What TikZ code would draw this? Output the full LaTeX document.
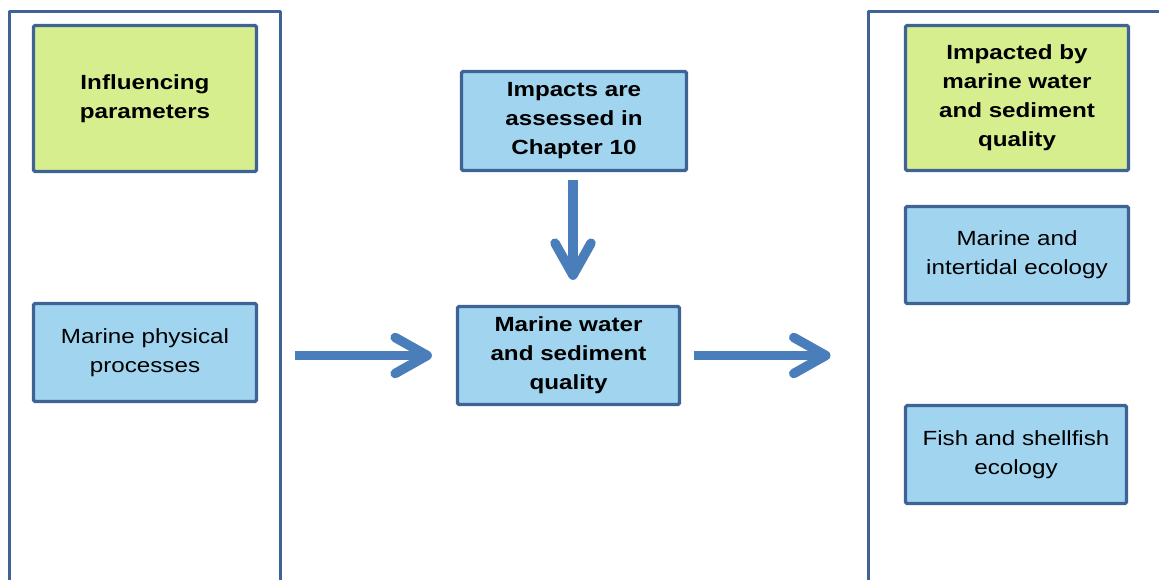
\documentclass[tikz,border=0pt]{standalone}
\usepackage{fontspec}
\setmainfont{Liberation Sans}[FakeStretch=1.18]
\usetikzlibrary{arrows.meta}
\definecolor{frame}{HTML}{3F6395}
\definecolor{leaf}{HTML}{D7EE8F}
\definecolor{sky}{HTML}{A0D4EF}
\definecolor{flow}{HTML}{4A7EBB}
\begin{document}
\begin{tikzpicture}[x=1pt,y=-1pt,
  box/.style={draw=frame, line width=3.2pt, rounded corners=1.5pt, align=center,
    inner sep=0pt, font=\fontsize{20.5}{29}\selectfont},
  greenbox/.style={box, fill=leaf, font=\fontsize{20.5}{29}\selectfont\bfseries},
  bluebox/.style={box, fill=sky},
  boldblue/.style={bluebox, font=\fontsize{20.5}{29}\selectfont\bfseries},
  panel/.style={draw=frame, line width=3.5pt, line join=round},
  flowarrow/.style={draw=flow, line width=9.5pt,
    -{Straight Barb[length=32pt, width=36pt, round]}}]
\useasboundingbox (0,0) rectangle (1159,580);
\clip (0,0) rectangle (1159,580);

% open-bottomed side panels
\draw[panel] (9.5,600) -- (9.5,11.5) -- (280.5,11.5) -- (280.5,600);
\draw[panel] (868.5,600) -- (868.5,11.5) -- (1200,11.5);

% left panel
\node[greenbox, minimum width=223pt, minimum height=146pt] (inf) at (145,98.5)
  {Influencing\\parameters};
\node[bluebox, minimum width=223pt, minimum height=98pt] (phys) at (145,352.5)
  {Marine physical\\processes};

% centre column
\node[boldblue, minimum width=225pt, minimum height=99pt] (ch10) at (574,121)
  {Impacts are\\assessed in\\Chapter 10};
\node[boldblue, minimum width=222pt, minimum height=98pt] (mwsq) at (568.5,355.5)
  {Marine water\\and sediment\\quality};

% right panel
\node[greenbox, minimum width=223pt, minimum height=145pt] (imp) at (1017,98)
  {Impacted by\\marine water\\and sediment\\quality};
\node[bluebox, minimum width=223pt, minimum height=97pt] (eco) at (1017,255)
  {Marine and\\intertidal ecology};
\node[bluebox, minimum width=221pt, minimum height=98pt] (fish) at (1016,454.5)
  {Fish and shellfish\\ecology};

\coordinate (rpanel) at (868.5,355.5);

% flow arrows
\draw[flowarrow, shorten <=37pt, shorten >=24pt] (phys.east |- mwsq.west) -- (mwsq.west);
\draw[flowarrow, shorten <=13pt, shorten >=38pt] (mwsq.east) -- (rpanel);
\draw[flowarrow, shorten <=8pt, shorten >=25pt] (ch10.south -| 573,0) -- (mwsq.north -| 573,0);
\end{tikzpicture}
\end{document}
